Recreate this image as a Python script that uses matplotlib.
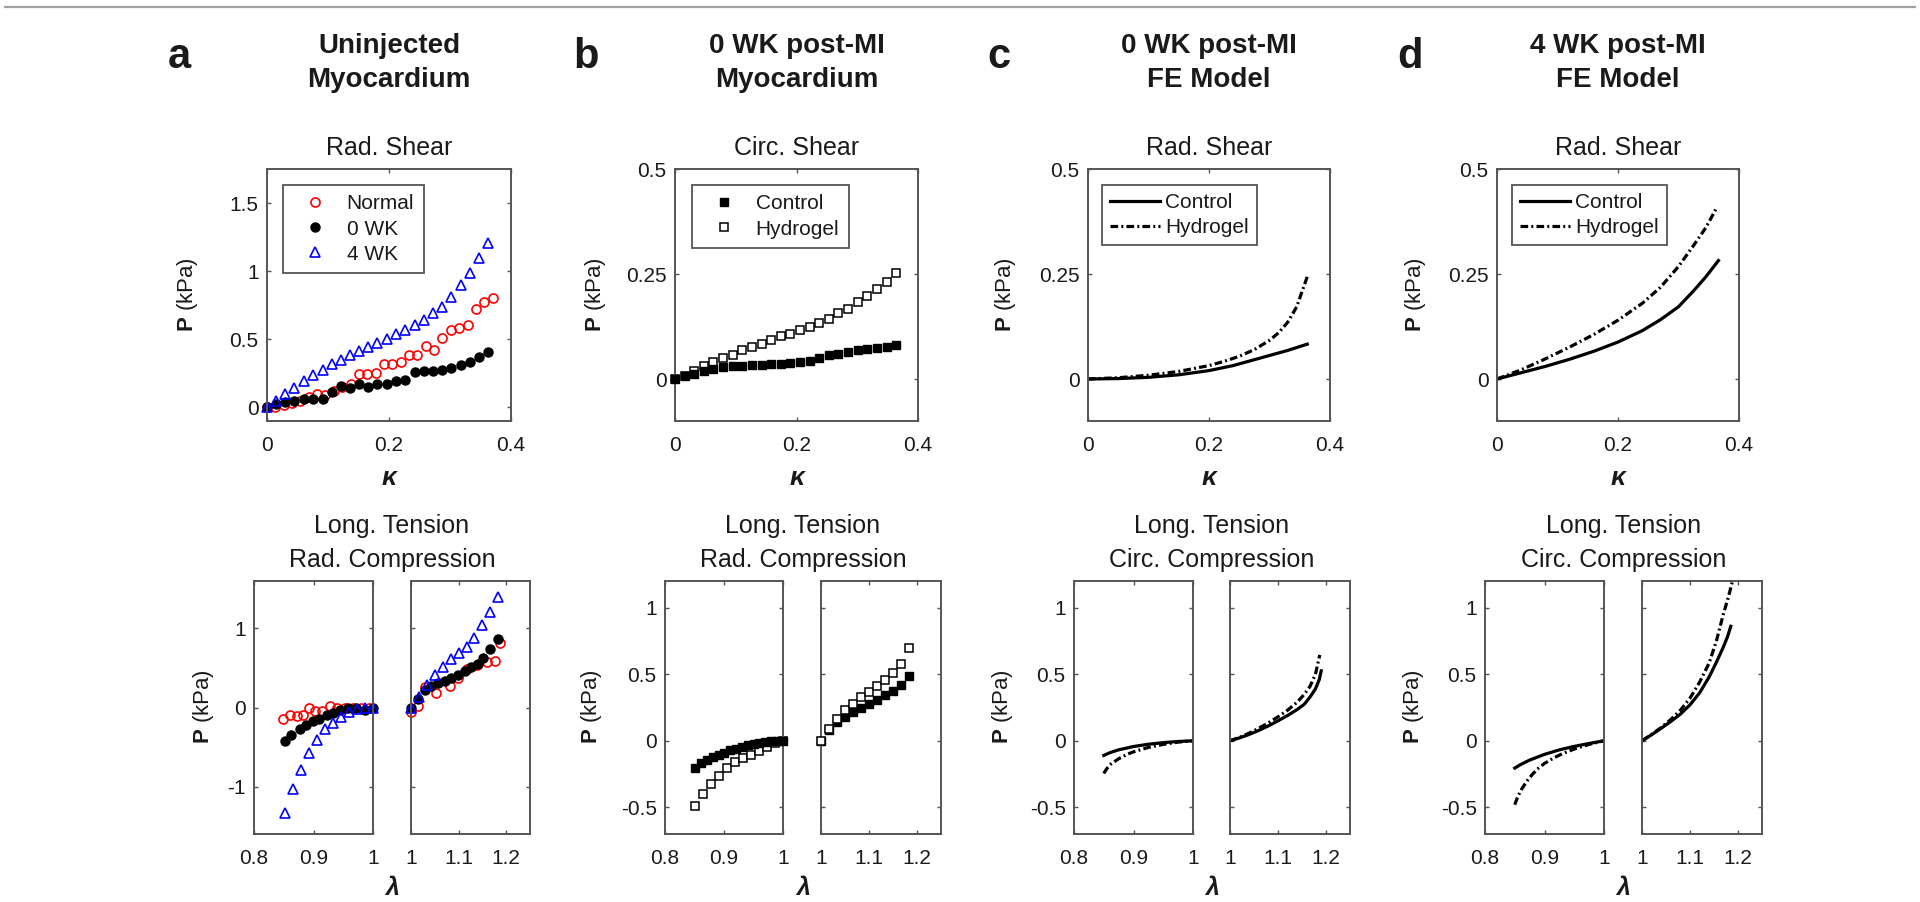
import matplotlib
matplotlib.use('Agg')
import matplotlib.pyplot as plt
from matplotlib.lines import Line2D
from matplotlib.ticker import FuncFormatter, FixedLocator

plt.rcParams['font.family'] = ['Liberation Sans', 'DejaVu Sans']
plt.rcParams['mathtext.fontset'] = 'custom'
plt.rcParams['mathtext.rm'] = 'Liberation Sans'
plt.rcParams['mathtext.bf'] = 'Liberation Sans:bold'
plt.rcParams['mathtext.it'] = 'Liberation Sans:italic'

# ---------------- data ----------------
# Panel a, top (Rad. Shear, uninjected myocardium)
a_kappa = [0.0, 0.015, 0.030, 0.045, 0.060, 0.076, 0.091, 0.106, 0.121, 0.136, 0.151, 0.166, 0.181,
           0.197, 0.212, 0.227, 0.242, 0.257, 0.272, 0.287, 0.302, 0.318, 0.333, 0.348, 0.363]
a_wk4 = [0.0, 0.045, 0.095, 0.145, 0.19, 0.235, 0.275, 0.315, 0.35, 0.385, 0.415, 0.445, 0.475,
         0.505, 0.54, 0.57, 0.605, 0.645, 0.69, 0.74, 0.81, 0.895, 0.99, 1.10, 1.21]
a_wk0 = [0.0, 0.025, 0.04, 0.05, 0.065, 0.06, 0.06, 0.11, 0.16, 0.14, 0.175, 0.15, 0.175,
         0.175, 0.195, 0.2, 0.26, 0.265, 0.27, 0.275, 0.29, 0.31, 0.335, 0.37, 0.41]
a_kappa_normal = [0.0, 0.0137, 0.0274, 0.0411, 0.0548, 0.0685, 0.0822, 0.0959, 0.1096, 0.1233, 0.137,
                  0.1507, 0.1644, 0.1781, 0.1918, 0.2055, 0.2192, 0.2329, 0.2466, 0.2603, 0.274,
                  0.2877, 0.3014, 0.3151, 0.3288, 0.3425, 0.3562, 0.37]
a_normal = [0.0, 0.0, 0.015, 0.03, 0.05, 0.075, 0.095, 0.09, 0.12, 0.15, 0.17, 0.245, 0.245, 0.25,
            0.32, 0.32, 0.335, 0.385, 0.385, 0.45, 0.42, 0.51, 0.57, 0.58, 0.605, 0.72, 0.77, 0.80]

# Panel a, bottom (Long. Tension / Rad. Compression)
a_lam_c = [0.852, 0.865, 0.879, 0.892, 0.906, 0.919, 0.933, 0.946, 0.960, 0.973, 0.987, 1.0]
a_wk4_c = [-1.34, -1.03, -0.785, -0.57, -0.405, -0.275, -0.19, -0.12, -0.055, -0.025, -0.005, 0.0]
a_lam_c0 = [0.852, 0.863, 0.877, 0.888, 0.899, 0.910, 0.922, 0.933, 0.944, 0.958, 0.972, 0.986, 1.0]
a_wk0_c = [-0.42, -0.35, -0.275, -0.22, -0.17, -0.14, -0.10, -0.07, -0.035, 0.0, 0.0, -0.035, 0.0]
a_lam_cn = [0.849, 0.861, 0.873, 0.883, 0.893, 0.903, 0.914, 0.927, 0.940, 0.953, 0.966, 0.980, 0.993]
a_normal_c = [-0.15, -0.09, -0.105, -0.10, -0.01, -0.05, -0.04, 0.02, -0.01, 0.0, -0.01, 0.0, 0.0]
a_lam_t = [1.0, 1.017, 1.033, 1.05, 1.067, 1.083, 1.10, 1.117, 1.133, 1.15, 1.167, 1.183]
a_wk4_t = [0.0, 0.135, 0.28, 0.41, 0.515, 0.61, 0.685, 0.77, 0.88, 1.04, 1.21, 1.40]
a_lam_t0 = [1.0, 1.015, 1.029, 1.043, 1.057, 1.071, 1.085, 1.099, 1.113, 1.127, 1.141, 1.152, 1.166, 1.183]
a_wk0_t = [0.0, 0.11, 0.22, 0.27, 0.31, 0.34, 0.37, 0.41, 0.46, 0.51, 0.555, 0.62, 0.74, 0.87]
a_lam_tn = [1.0, 1.015, 1.029, 1.053, 1.082, 1.099, 1.117, 1.138, 1.159, 1.176, 1.187]
a_normal_t = [-0.055, 0.017, 0.26, 0.18, 0.275, 0.37, 0.49, 0.535, 0.58, 0.585, 0.81]

# Panel b, top (Circ. Shear, 0 WK post-MI myocardium)
b_kappa = [0.0, 0.0158, 0.0317, 0.0475, 0.0633, 0.0791, 0.095, 0.1108, 0.1266, 0.1425, 0.1583, 0.1741,
           0.1899, 0.2058, 0.2216, 0.2374, 0.2533, 0.2691, 0.2849, 0.3007, 0.3166, 0.3324, 0.3482, 0.364]
b_hydrogel = [0.0, 0.008, 0.02, 0.03, 0.04, 0.049, 0.058, 0.068, 0.077, 0.084, 0.093, 0.102, 0.108,
              0.116, 0.124, 0.134, 0.144, 0.156, 0.167, 0.183, 0.198, 0.214, 0.231, 0.253]
b_control = [0.0, 0.006, 0.012, 0.018, 0.024, 0.028, 0.030, 0.032, 0.033, 0.033, 0.035, 0.036, 0.037,
             0.040, 0.044, 0.049, 0.056, 0.060, 0.064, 0.068, 0.072, 0.074, 0.077, 0.081]

# Panel b, bottom
b_lam_c = [0.851, 0.865, 0.878, 0.892, 0.905, 0.919, 0.932, 0.946, 0.959, 0.973, 0.986, 1.0]
b_hydrogel_c = [-0.486, -0.40, -0.323, -0.266, -0.208, -0.16, -0.128, -0.103, -0.073, -0.048, -0.02, 0.0]
b_lam_cc = [0.851, 0.861, 0.871, 0.881, 0.891, 0.900, 0.910, 0.920, 0.930, 0.940, 0.950, 0.960,
            0.970, 0.980, 0.990, 1.0]
b_control_c = [-0.205, -0.17, -0.145, -0.125, -0.105, -0.088, -0.072, -0.058, -0.045, -0.034,
               -0.025, -0.017, -0.01, -0.005, -0.002, 0.0]
b_lam_t = [1.0, 1.017, 1.033, 1.05, 1.066, 1.083, 1.10, 1.116, 1.133, 1.15, 1.166, 1.183]
b_hydrogel_t = [0.0, 0.085, 0.16, 0.228, 0.278, 0.328, 0.366, 0.41, 0.454, 0.506, 0.58, 0.694]
b_control_t = [0.0, 0.078, 0.143, 0.178, 0.218, 0.248, 0.28, 0.31, 0.343, 0.373, 0.416, 0.49]

# Panel c (0 WK post-MI FE model)
c_kappa_ctl = [0.0, 0.05, 0.1, 0.15, 0.2, 0.24, 0.27, 0.3, 0.33, 0.3625]
c_control = [0.0, 0.001, 0.004, 0.01, 0.02, 0.032, 0.044, 0.056, 0.068, 0.083]
c_kappa_hyd = [0.0, 0.05, 0.1, 0.15, 0.2, 0.225, 0.25, 0.275, 0.3, 0.315, 0.33, 0.345, 0.3625]
c_hydrogel = [0.0, 0.003, 0.009, 0.018, 0.032, 0.042, 0.054, 0.07, 0.092, 0.11, 0.135, 0.172, 0.244]
c_lam_cc = [0.85, 0.86, 0.875, 0.9, 0.925, 0.95, 0.975, 1.0]
c_control_c = [-0.11, -0.09, -0.068, -0.043, -0.026, -0.014, -0.005, 0.0]
c_lam_ch = [0.85, 0.855, 0.862, 0.875, 0.89, 0.9, 0.925, 0.95, 0.975, 1.0]
c_hydrogel_c = [-0.245, -0.21, -0.175, -0.135, -0.10, -0.083, -0.05, -0.027, -0.01, 0.0]
c_lam_t_ctl = [1.0, 1.02, 1.04, 1.06, 1.08, 1.1, 1.12, 1.14, 1.155, 1.167, 1.178, 1.186, 1.19]
c_control_t = [0.0, 0.022, 0.048, 0.078, 0.112, 0.15, 0.19, 0.235, 0.275, 0.33, 0.39, 0.46, 0.525]
c_lam_t_hyd = [1.0, 1.02, 1.04, 1.06, 1.08, 1.1, 1.12, 1.14, 1.155, 1.167, 1.178, 1.187]
c_hydrogel_t = [0.0, 0.026, 0.058, 0.094, 0.135, 0.18, 0.23, 0.29, 0.35, 0.41, 0.50, 0.645]

# Panel d (4 WK post-MI FE model)
d_kappa_ctl = [0.0, 0.04, 0.08, 0.12, 0.16, 0.2, 0.24, 0.27, 0.3, 0.325, 0.345, 0.366]
d_control = [0.0, 0.015, 0.03, 0.047, 0.066, 0.088, 0.115, 0.141, 0.172, 0.21, 0.243, 0.282]
d_kappa_hyd = [0.0, 0.04, 0.08, 0.12, 0.16, 0.2, 0.24, 0.27, 0.3, 0.325, 0.345, 0.364]
d_hydrogel = [0.0, 0.022, 0.048, 0.076, 0.106, 0.14, 0.18, 0.218, 0.268, 0.318, 0.36, 0.41]
d_lam_cc = [0.85, 0.86, 0.875, 0.9, 0.925, 0.95, 0.975, 1.0]
d_control_c = [-0.205, -0.178, -0.145, -0.102, -0.068, -0.042, -0.02, 0.0]
d_lam_ch = [0.85, 0.855, 0.862, 0.87, 0.88, 0.89, 0.9, 0.915, 0.93, 0.95, 0.975, 1.0]
d_hydrogel_c = [-0.48, -0.42, -0.36, -0.305, -0.25, -0.205, -0.17, -0.13, -0.097, -0.062, -0.027, 0.0]
d_lam_t_ctl = [1.0, 1.02, 1.04, 1.06, 1.08, 1.1, 1.12, 1.14, 1.155, 1.169, 1.178, 1.185]
d_control_t = [0.0, 0.045, 0.094, 0.145, 0.2, 0.27, 0.36, 0.48, 0.59, 0.70, 0.78, 0.86]
d_lam_t_hyd = [1.0, 1.02, 1.04, 1.06, 1.08, 1.1, 1.12, 1.14, 1.155, 1.169, 1.18, 1.19]
d_hydrogel_t = [0.0, 0.048, 0.10, 0.16, 0.23, 0.32, 0.44, 0.585, 0.75, 0.945, 1.08, 1.22]

headers = [("a", ["Uninjected", "Myocardium"]),
           ("b", ["0 WK post-MI", "Myocardium"]),
           ("c", ["0 WK post-MI", "FE Model"]),
           ("d", ["4 WK post-MI", "FE Model"])]
top_titles = ["Rad. Shear", "Circ. Shear", "Rad. Shear", "Rad. Shear"]
bottom_titles = [["Long. Tension", "Rad. Compression"], ["Long. Tension", "Rad. Compression"],
                 ["Long. Tension", "Circ. Compression"], ["Long. Tension", "Circ. Compression"]]

# ---------------- layout ----------------
W, H = 1920, 902
fig = plt.figure(figsize=(W / 100, H / 100), dpi=100)
FRAME = '#555555'
TXT = '#1a1a1a'

def add_ax(x0, y0, x1, y1):
    return fig.add_axes([x0 / W, 1 - y1 / H, (x1 - x0) / W, (y1 - y0) / H])

fmt = FuncFormatter(lambda v, p: ('%g' % round(v, 3)))

def style(ax):
    for s in ax.spines.values():
        s.set_color(FRAME)
        s.set_linewidth(1.4)
    ax.tick_params(direction='in', top=True, right=True, length=3, width=1, color=FRAME,
                   labelsize=15, labelcolor=TXT)
    ax.tick_params(axis='x', pad=11)
    ax.tick_params(axis='y', pad=6)
    ax.xaxis.set_major_formatter(fmt)
    ax.yaxis.set_major_formatter(fmt)

top_x = [(267, 511), (675, 918), (1088, 1330), (1497, 1739)]
top_y = (169, 421)
bot_l = [(254, 373), (665, 783), (1074, 1193), (1485, 1604)]
bot_r = [(411, 530), (821, 941), (1230, 1350), (1642, 1762)]
bot_y = (581, 834)
letter_x = [168, 573, 987, 1397]
ylab_top_x = [188, 596, 1005, 1415]
ylab_bot_x = [203, 592, 1003, 1413]

tops, lefts, rights = [], [], []
for i in range(4):
    at = add_ax(top_x[i][0], top_y[0], top_x[i][1], top_y[1])
    al = add_ax(bot_l[i][0], bot_y[0], bot_l[i][1], bot_y[1])
    ar = add_ax(bot_r[i][0], bot_y[0], bot_r[i][1], bot_y[1])
    for ax in (at, al, ar):
        style(ax)
    at.set_xlim(0, 0.4)
    at.xaxis.set_major_locator(FixedLocator([0, 0.2, 0.4]))
    al.set_xlim(0.8, 1.0)
    al.xaxis.set_major_locator(FixedLocator([0.8, 0.9, 1.0]))
    ar.set_xlim(1.0, 1.25)
    ar.xaxis.set_major_locator(FixedLocator([1.0, 1.1, 1.2]))
    if i == 0:
        at.set_ylim(-0.1, 1.75)
        at.yaxis.set_major_locator(FixedLocator([0, 0.5, 1, 1.5]))
        for ax in (al, ar):
            ax.set_ylim(-1.6, 1.6)
            ax.yaxis.set_major_locator(FixedLocator([-1, 0, 1]))
    else:
        at.set_ylim(-0.1, 0.5)
        at.yaxis.set_major_locator(FixedLocator([0, 0.25, 0.5]))
        for ax in (al, ar):
            ax.set_ylim(-0.7, 1.2)
            ax.yaxis.set_major_locator(FixedLocator([-0.5, 0, 0.5, 1]))
    ar.tick_params(labelleft=False)
    tops.append(at); lefts.append(al); rights.append(ar)

    # texts
    cx_top = (top_x[i][0] + top_x[i][1]) / 2
    cx_bot = (bot_l[i][0] + bot_r[i][1]) / 2
    fig.text(letter_x[i] / W, 1 - 68 / H, headers[i][0], fontsize=30, fontweight='bold',
             ha='left', va='baseline', color=TXT)
    fig.text(cx_top / W, 1 - 53 / H, headers[i][1][0], fontsize=20, fontweight='bold',
             ha='center', va='baseline', color=TXT)
    fig.text(cx_top / W, 1 - 87 / H, headers[i][1][1], fontsize=20, fontweight='bold',
             ha='center', va='baseline', color=TXT)
    fig.text(cx_top / W, 1 - 155 / H, top_titles[i], fontsize=18, ha='center', va='baseline', color=TXT)
    fig.text(cx_bot / W, 1 - 533 / H, bottom_titles[i][0], fontsize=18, ha='center', va='baseline', color=TXT)
    fig.text(cx_bot / W, 1 - 567 / H, bottom_titles[i][1], fontsize=18, ha='center', va='baseline', color=TXT)
    fig.text(cx_top / W, 1 - 485 / H, 'κ', fontsize=19, fontstyle='italic', fontweight='bold',
             ha='center', va='baseline', color=TXT)
    fig.text(cx_bot / W, 1 - 895 / H, 'λ', fontsize=18, fontstyle='italic', fontweight='bold',
             ha='center', va='baseline', color=TXT)
    fig.text(ylab_top_x[i] / W, 1 - 295 / H, r'$\mathbf{P}$ (kPa)', fontsize=16, rotation=90,
             ha='center', va='center', color=TXT)
    fig.text(ylab_bot_x[i] / W, 1 - 707 / H, r'$\mathbf{P}$ (kPa)', fontsize=16, rotation=90,
             ha='center', va='center', color=TXT)

# top separator line
fig.add_artist(Line2D([5 / W, 1915 / W], [1 - 7 / H, 1 - 7 / H], color='#a0a0a0', lw=1.6))

MS = 6.5
mk_normal = dict(marker='o', ls='none', mfc='none', mec='r', ms=MS, mew=1.2, clip_on=False)
mk_wk0 = dict(marker='o', ls='none', mfc='k', mec='k', ms=MS, mew=1.0, clip_on=False)
mk_wk4 = dict(marker='^', ls='none', mfc='none', mec='b', ms=MS, mew=1.2, clip_on=False)
SQ = 5.2
mk_ctl = dict(marker='s', ls='none', mfc='k', mec='k', ms=SQ, mew=1.0, clip_on=False)
mk_hyd = dict(marker='s', ls='none', mfc='white', mec='k', ms=SQ, mew=1.1, clip_on=False)
LW = 2.3
ln_ctl = dict(color='k', lw=LW, ls='-', solid_joinstyle='round')
ln_hyd = dict(color='k', lw=LW, ls=(0, (2.4, 1.0, 0.6, 1.0)))

# panel a
at, al, ar = tops[0], lefts[0], rights[0]
at.plot(a_kappa_normal, a_normal, label='Normal', **mk_normal)
at.plot(a_kappa, a_wk0, label='0 WK', **mk_wk0)
at.plot(a_kappa, a_wk4, label='4 WK', **mk_wk4)
al.plot(a_lam_cn, a_normal_c, **mk_normal)
al.plot(a_lam_c0, a_wk0_c, **mk_wk0)
al.plot(a_lam_c, a_wk4_c, **mk_wk4)
ar.plot(a_lam_tn, a_normal_t, **mk_normal)
ar.plot(a_lam_t0, a_wk0_t, **mk_wk0)
ar.plot(a_lam_t, a_wk4_t, **mk_wk4)

# panel b
at, al, ar = tops[1], lefts[1], rights[1]
at.plot(b_kappa, b_hydrogel, label='Hydrogel', zorder=2, **mk_hyd)
at.plot(b_kappa, b_control, label='Control', zorder=3, **mk_ctl)
al.plot(b_lam_c, b_hydrogel_c, zorder=2, **mk_hyd)
al.plot(b_lam_cc, b_control_c, zorder=3, **mk_ctl)
ar.plot(b_lam_t, b_control_t, zorder=2, **mk_ctl)
ar.plot(b_lam_t, b_hydrogel_t, zorder=3, **mk_hyd)

# panel c
at, al, ar = tops[2], lefts[2], rights[2]
at.plot(c_kappa_ctl, c_control, label='Control', **ln_ctl)
at.plot(c_kappa_hyd, c_hydrogel, label='Hydrogel', **ln_hyd)
al.plot(c_lam_cc, c_control_c, **ln_ctl)
al.plot(c_lam_ch, c_hydrogel_c, **ln_hyd)
ar.plot(c_lam_t_ctl, c_control_t, **ln_ctl)
ar.plot(c_lam_t_hyd, c_hydrogel_t, **ln_hyd)

# panel d
at, al, ar = tops[3], lefts[3], rights[3]
at.plot(d_kappa_ctl, d_control, label='Control', **ln_ctl)
at.plot(d_kappa_hyd, d_hydrogel, label='Hydrogel', **ln_hyd)
al.plot(d_lam_cc, d_control_c, **ln_ctl)
al.plot(d_lam_ch, d_hydrogel_c, **ln_hyd)
ar.plot(d_lam_t_ctl, d_control_t, **ln_ctl)
ar.plot(d_lam_t_hyd, d_hydrogel_t, **ln_hyd)

def legend(ax, x, order=None, marker=True):
    h, l = ax.get_legend_handles_labels()
    if order:
        h = [h[k] for k in order]; l = [l[k] for k in order]
    kw = dict(loc='upper left', bbox_to_anchor=(x, 0.937), fancybox=False, edgecolor=FRAME,
              fontsize=15, borderaxespad=0, framealpha=1, labelspacing=0.3)
    if marker:
        kw.update(handlelength=2.2, handletextpad=0.4, borderpad=0.45)
    else:
        kw.update(handlelength=2.4, handletextpad=0.25, borderpad=0.38)
    leg = ax.legend(h, l, **kw)
    leg.get_frame().set_linewidth(1.3)
    for t in leg.get_texts():
        t.set_color(TXT)

legend(tops[0], 0.066)
legend(tops[1], 0.07, order=[1, 0])
legend(tops[2], 0.058, marker=False)
legend(tops[3], 0.062, marker=False)

fig.savefig('out.png', dpi=100, facecolor='white')
